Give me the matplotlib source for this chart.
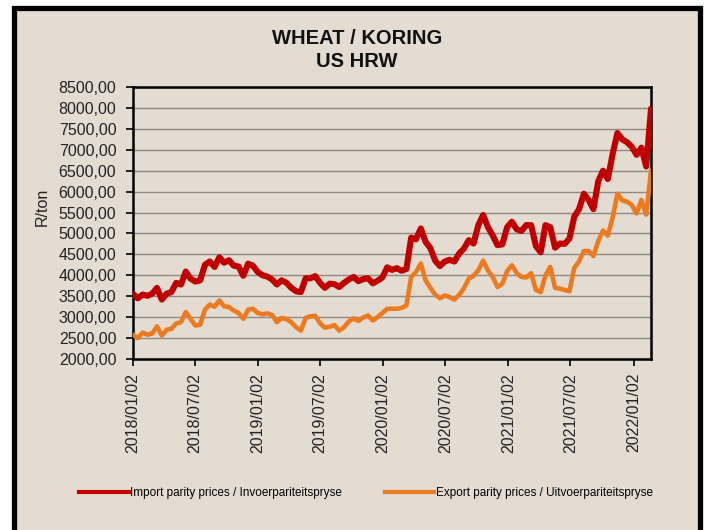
import matplotlib
matplotlib.use("Agg")
import matplotlib.pyplot as plt
from matplotlib import font_manager
from matplotlib.patches import Rectangle
from matplotlib.lines import Line2D
from matplotlib.ticker import FuncFormatter, MultipleLocator
import pandas as pd

# ---------------- data (fortnightly readings) ----------------
start_date = "2018-01-02"
import_parity = [
    3560, 3450, 3540, 3510, 3560, 3700, 3420, 3560, 3600, 3820,
    3780, 4090, 3920, 3850, 3880, 4250, 4330, 4200, 4430, 4300,
    4360, 4230, 4210, 3990, 4280, 4230, 4080, 4000, 3970, 3900,
    3780, 3880, 3820, 3700, 3620, 3600, 3930, 3930, 3980, 3820,
    3700, 3800, 3790, 3720, 3820, 3900, 3960, 3860, 3910, 3930,
    3810, 3870, 3950, 4190, 4130, 4170, 4110, 4150, 4900, 4860,
    5120, 4800, 4650, 4350, 4220, 4330, 4370, 4330, 4520, 4640,
    4840, 4760, 5200, 5440, 5150, 4950, 4720, 4740, 5150, 5280,
    5100, 5060, 5200, 5200, 4700, 4550, 5200, 5150, 4660, 4760,
    4750, 4880, 5400, 5580, 5950, 5800, 5580, 6250, 6500, 6300,
    6900, 7400, 7250, 7180, 7070, 6880, 7050, 6600, 7980,
]
export_parity = [
    2580, 2500, 2630, 2580, 2610, 2780, 2560, 2700, 2720, 2850,
    2880, 3120, 2960, 2800, 2820, 3180, 3300, 3250, 3400, 3260,
    3240, 3160, 3100, 2960, 3180, 3200, 3100, 3070, 3090, 3050,
    2880, 2980, 2950, 2880, 2760, 2680, 2980, 3020, 3030, 2850,
    2750, 2770, 2810, 2680, 2760, 2900, 2970, 2910, 2990, 3040,
    2920, 3000, 3100, 3200, 3200, 3200, 3220, 3280, 3960, 4080,
    4280, 3880, 3700, 3540, 3450, 3520, 3480, 3420, 3530, 3690,
    3920, 3990, 4120, 4350, 4120, 3960, 3720, 3800, 4100, 4240,
    4050, 3960, 3950, 4050, 3650, 3600, 4000, 4200, 3700, 3680,
    3650, 3620, 4180, 4330, 4580, 4580, 4460, 4820, 5070, 4950,
    5380, 5950, 5790, 5760, 5680, 5480, 5800, 5450, 6500,
]
tick_labels = ["2018/01/02", "2018/07/02", "2019/01/02", "2019/07/02",
               "2020/01/02", "2020/07/02", "2021/01/02", "2021/07/02",
               "2022/01/02"]
series_names = ["Import parity prices / Invoerpariteitspryse",
                "Export parity prices / Uitvoerpariteitspryse"]
title_text = "WHEAT / KORING\nUS HRW"
ylabel_text = "R/ton"

dates = pd.date_range(start_date, periods=len(import_parity), freq="14D")

# ---------------- fonts ----------------
avail = {f.name for f in font_manager.fontManager.ttflist}
narrow = "Liberation Sans Narrow" if "Liberation Sans Narrow" in avail else "Liberation Sans"
plt.rcParams["font.family"] = ["Liberation Sans", "DejaVu Sans"]

W, H = 716, 530
fig = plt.figure(figsize=(W / 100, H / 100), dpi=100)
fig.patch.set_facecolor("white")

bg = "#E4DCD0"
fig.add_artist(Rectangle((14 / W, -20 / H), (700 - 14) / W, (530 - 8 + 20) / H,
                         transform=fig.transFigure, facecolor=bg,
                         edgecolor="black", linewidth=3.8, zorder=0))

ax = fig.add_axes([133 / W, 1 - 359 / H, (651 - 133) / W, (359 - 87) / H])
ax.patch.set_alpha(0)

red = "#C00000"
orange = "#EC7A20"
ax.plot(dates, import_parity, color=red, lw=4.4, solid_joinstyle="round",
        solid_capstyle="round", zorder=3, label=series_names[0])
ax.plot(dates, export_parity, color=orange, lw=3.3, solid_joinstyle="round",
        solid_capstyle="round", zorder=3, label=series_names[1])

ax.set_ylim(2000, 8500)
ax.yaxis.set_major_locator(MultipleLocator(500))
ax.yaxis.set_major_formatter(FuncFormatter(lambda v, p: f"{v:.2f}".replace(".", ",")))
ax.grid(axis="y", color="#8E8A86", lw=1.0, zorder=1)
ax.set_axisbelow(True)

ax.set_xlim(dates[0], dates[-1])
tick_dates = [pd.Timestamp(t.replace("/", "-")) for t in tick_labels]
ax.set_xticks(tick_dates)
ax.set_xticklabels(tick_labels, rotation=90, fontsize=11.5, color="#222222")

for s in ax.spines.values():
    s.set_color("black")
    s.set_linewidth(1.8)
ax.tick_params(axis="both", direction="out", length=5, width=1.2, color="black")
ax.tick_params(axis="y", labelsize=11.5, labelcolor="#222222", pad=7)
ax.tick_params(axis="x", pad=5)

fig.text(42 / W, 1 - 207 / H, ylabel_text, rotation=90, ha="center", va="center",
         fontsize=11.5, color="#222222")

fig.text(357 / W, 1 - 50 / H, title_text, ha="center", va="center",
         fontsize=14.5, fontweight="bold", color="#111111", linespacing=1.25,
         family=[narrow, "Liberation Sans", "DejaVu Sans"])

handles = [Line2D([], [], color=red, lw=3), Line2D([], [], color=orange, lw=3)]
fig.legend(handles, series_names, loc="center", bbox_to_anchor=(366 / W, 1 - 493 / H),
           ncol=2, frameon=False, handlelength=4.2, handletextpad=0.15,
           columnspacing=3.6, prop={"family": [narrow, "Liberation Sans"], "size": 8.5})

fig.savefig("out.png", dpi=100, facecolor=fig.get_facecolor())
